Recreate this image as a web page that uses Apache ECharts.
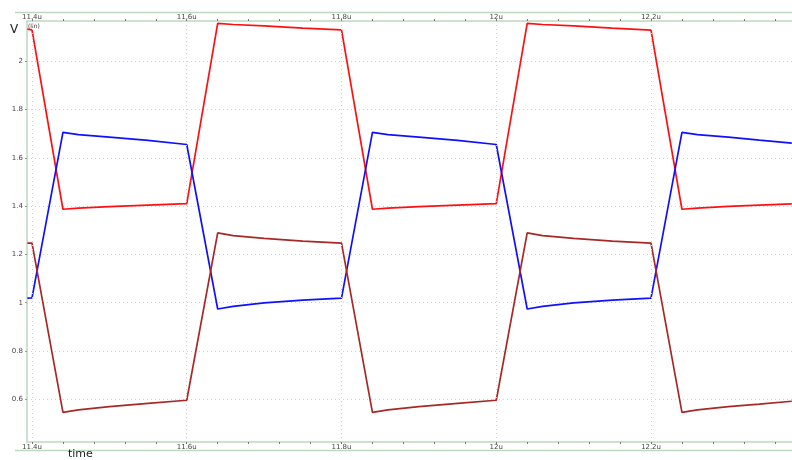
<!DOCTYPE html>
<html>
<head>
<meta charset="utf-8">
<script src="https://cdn.jsdelivr.net/npm/echarts@6/dist/echarts.min.js"></script>
<style>
  html, body { margin: 0; padding: 0; background: #fff; }
  #chart { width: 792px; height: 460px; }
</style>
</head>
<body>
<div id="chart"></div>
<script>
// Transient waveforms (time in microseconds, voltage in volts)
const times = [11.394, 11.4, 11.44, 11.46, 11.5, 11.55, 11.6, 11.64, 11.66, 11.7, 11.75, 11.8,
               11.84, 11.86, 11.9, 11.95, 12.0, 12.04, 12.06, 12.1, 12.15, 12.2,
               12.24, 12.26, 12.3, 12.34, 12.382];
const redV   = [2.133, 2.130, 1.387, 1.392, 1.398, 1.404, 1.410, 2.157, 2.152, 2.146, 2.137, 2.130,
                1.387, 1.392, 1.398, 1.404, 1.410, 2.157, 2.152, 2.146, 2.137, 2.129,
                1.387, 1.392, 1.399, 1.404, 1.409];
const blueV  = [1.019, 1.020, 1.705, 1.696, 1.686, 1.672, 1.655, 0.974, 0.985, 0.999, 1.011, 1.019,
                1.705, 1.696, 1.686, 1.672, 1.655, 0.974, 0.985, 0.999, 1.011, 1.019,
                1.705, 1.696, 1.686, 1.673, 1.661];
const brownV = [1.247, 1.247, 0.546, 0.556, 0.570, 0.583, 0.596, 1.289, 1.278, 1.266, 1.255, 1.247,
                0.546, 0.556, 0.570, 0.583, 0.596, 1.289, 1.278, 1.266, 1.255, 1.247,
                0.546, 0.556, 0.570, 0.580, 0.592];

// Axis ticks and labels
const xMajor = [11.4, 11.6, 11.8, 12.0, 12.2];
const xMinor = [11.4, 11.44, 11.48, 11.52, 11.56, 11.6, 11.64, 11.68, 11.72, 11.76, 11.8,
                11.84, 11.88, 11.92, 11.96, 12.0, 12.04, 12.08, 12.12, 12.16, 12.2,
                12.24, 12.28, 12.32, 12.36];
const yMajor = [0.6, 0.8, 1.0, 1.2, 1.4, 1.6, 1.8, 2.0];

const X_MIN = 11.39354, X_MAX = 12.38223;
const Y_MIN = 0.4232, Y_MAX = 2.1665;

const FONT = 'DejaVu Sans';
const AXIS_GREEN = '#bcd9bc';
const GRID_DOT = { color: '#d2d2d2', type: [1, 3], width: 1 };

function pairs(ys) { return times.map((t, i) => [t, ys[i]]); }
function fmtX(v) { return (Math.round(v * 10) / 10).toString().replace(/\.0$/, '') + 'u'; }
function fmtY(v) { return (Math.round(v * 10) / 10).toString(); }

function xAxisDef(pos, labelMargin) {
  return {
    type: 'value', position: pos, min: X_MIN, max: X_MAX,
    axisLine: { show: true, lineStyle: { color: AXIS_GREEN, width: 1.5 } },
    axisTick: { show: true, customValues: xMinor, length: 2, lineStyle: { color: '#777', width: 1 } },
    axisLabel: { show: true, customValues: xMajor, formatter: fmtX, fontFamily: FONT,
                 fontSize: 7, color: '#444', margin: labelMargin },
    splitLine: { show: false }
  };
}

const lineSeries = (name, ys, color, extra) => Object.assign({
  name, type: 'line', data: pairs(ys), showSymbol: false, symbol: 'none',
  lineStyle: { color, width: 1.7 }, itemStyle: { color }, z: 3, animation: false
}, extra || {});

const chart = echarts.init(document.getElementById('chart'), null, { renderer: 'canvas' });
chart.setOption({
  backgroundColor: '#ffffff',
  animation: false,
  grid: { left: 27, right: 0, top: 21, bottom: 18, containLabel: false },
  xAxis: [xAxisDef('bottom', 2), xAxisDef('top', 0)],
  yAxis: {
    type: 'value', min: Y_MIN, max: Y_MAX,
    axisLine: { show: true, lineStyle: { color: AXIS_GREEN, width: 1.5 } },
    axisTick: { show: true, customValues: yMajor, length: 2, lineStyle: { color: '#999' } },
    axisLabel: { show: true, customValues: yMajor, formatter: fmtY, fontFamily: FONT,
                 fontSize: 7, color: '#444', margin: 4 },
    splitLine: { show: true, lineStyle: GRID_DOT }
  },
  graphic: [
    { type: 'line', shape: { x1: 15, y1: 12.5, x2: 792, y2: 12.5 }, style: { stroke: AXIS_GREEN, lineWidth: 1.5 }, silent: true },
    { type: 'line', shape: { x1: 15, y1: 450.5, x2: 792, y2: 450.5 }, style: { stroke: AXIS_GREEN, lineWidth: 1.5 }, silent: true },
    { type: 'text', left: 10, top: 24, style: { text: 'V', font: '12px "DejaVu Sans"', fill: '#222' }, silent: true },
    { type: 'text', left: 28, top: 23, style: { text: '(lin)', font: '6px "DejaVu Sans"', fill: '#333' }, silent: true },
    { type: 'text', left: 68, top: 449, style: { text: 'time', font: '11px "DejaVu Sans"', fill: '#222' }, silent: true }
  ],
  series: [
    lineSeries('grid', [], '#000', {
      data: [],
      markLine: {
        silent: true, symbol: 'none', label: { show: false }, animation: false,
        lineStyle: GRID_DOT,
        data: xMajor.map(v => ({ xAxis: v }))
      }
    }),
    lineSeries('v1', redV, '#ff1010'),
    lineSeries('v2', blueV, '#1010ff'),
    lineSeries('v3', brownV, '#a82828')
  ]
});
</script>
</body>
</html>
